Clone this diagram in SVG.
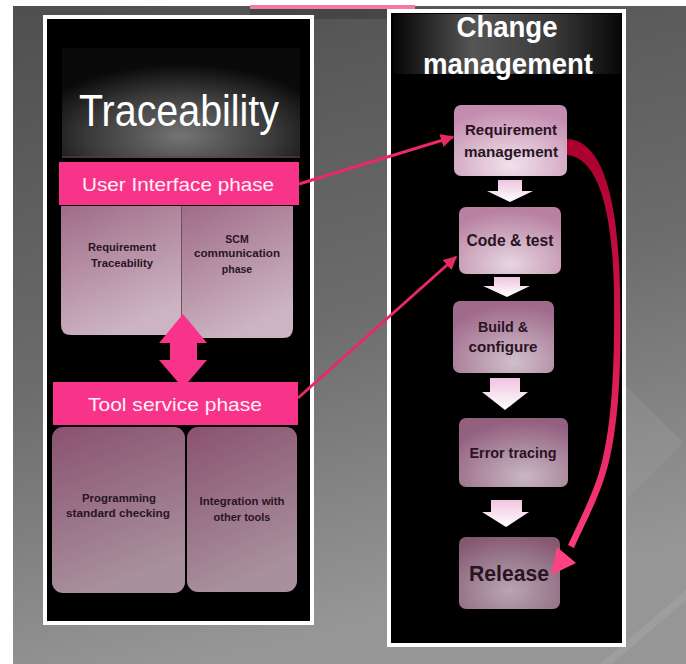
<svg xmlns="http://www.w3.org/2000/svg" width="686" height="664" viewBox="0 0 686 664">
<defs>
<style>
.title{font-family:"Liberation Sans",Arial,sans-serif;fill:#ffffff}
.bar{fill:#f8348a}
.bartxt{font-family:"Liberation Sans",Arial,sans-serif;font-size:19px;fill:#fff0f6;text-anchor:middle}
.small{font-family:"Liberation Sans",Arial,sans-serif;font-size:10.5px;font-weight:bold;fill:#2a1424;text-anchor:middle}
.ntxt{font-family:"Liberation Sans",Arial,sans-serif;font-weight:bold;fill:#2a1424;text-anchor:middle}
.flow{fill:url(#flowGrad)}
.link{stroke:#e82a64;stroke-width:3;fill:none}
</style>
<linearGradient id="bgGrad" x1="0" y1="0" x2="0.25" y2="1">
<stop offset="0" stop-color="#4f4f4f"/>
<stop offset="0.55" stop-color="#6c6c6c"/>
<stop offset="1" stop-color="#969696"/>
</linearGradient>
<radialGradient id="hdrL" cx="0.5" cy="0.8" r="0.65">
<stop offset="0" stop-color="#747474"/>
<stop offset="0.6" stop-color="#3a3a3a"/>
<stop offset="1" stop-color="#0a0a0a"/>
</radialGradient>
<linearGradient id="hdrR" x1="0" y1="0" x2="1" y2="0">
<stop offset="0" stop-color="#050505"/>
<stop offset="0.35" stop-color="#555555"/>
<stop offset="0.7" stop-color="#3a3a3a"/>
<stop offset="1" stop-color="#080808"/>
</linearGradient>
<linearGradient id="topBox" x1="0" y1="0" x2="0.4" y2="1">
<stop offset="0" stop-color="#a06c88"/>
<stop offset="1" stop-color="#ccb4c2"/>
</linearGradient>
<linearGradient id="botBox" x1="0" y1="0" x2="0.3" y2="1">
<stop offset="0" stop-color="#8a5270"/>
<stop offset="1" stop-color="#a8909c"/>
</linearGradient>
<radialGradient id="n1" cx="0.5" cy="0.85" r="0.8">
<stop offset="0" stop-color="#f0e2ea"/>
<stop offset="1" stop-color="#c48cb0"/>
</radialGradient>
<radialGradient id="n2" cx="0.5" cy="0.85" r="0.8">
<stop offset="0" stop-color="#e6d6e0"/>
<stop offset="1" stop-color="#b880a2"/>
</radialGradient>
<radialGradient id="n3" cx="0.6" cy="0.85" r="0.8">
<stop offset="0" stop-color="#d0c0ca"/>
<stop offset="1" stop-color="#a06a8c"/>
</radialGradient>
<radialGradient id="n4" cx="0.6" cy="0.85" r="0.8">
<stop offset="0" stop-color="#c8b8c2"/>
<stop offset="1" stop-color="#946080"/>
</radialGradient>
<radialGradient id="n5" cx="0.5" cy="0.75" r="0.8">
<stop offset="0" stop-color="#b8a6b2"/>
<stop offset="1" stop-color="#845872"/>
</radialGradient>
<linearGradient id="flowGrad" x1="0" y1="0" x2="0" y2="1">
<stop offset="0" stop-color="#f0c4e0"/>
<stop offset="1" stop-color="#ffffff"/>
</linearGradient>
<linearGradient id="curveGrad" gradientUnits="userSpaceOnUse" x1="0" y1="140" x2="0" y2="575">
<stop offset="0" stop-color="#a8002e"/>
<stop offset="0.5" stop-color="#d81850"/>
<stop offset="1" stop-color="#ff4282"/>
</linearGradient>
<marker id="ah" viewBox="0 0 10 10" refX="9" refY="5" markerWidth="4.5" markerHeight="4.5" orient="auto" markerUnits="strokeWidth">
<path d="M0,0 L10,5 L0,10 Z" fill="#e82a64"/>
</marker>
</defs>

<!-- background -->
<rect x="0" y="0" width="686" height="664" fill="#ffffff"/>
<rect x="13" y="6" width="673" height="658" fill="url(#bgGrad)"/>
<polygon points="600,664 686,590 686,600 612,664" fill="#ffffff" opacity="0.08"/>
<polygon points="625,385 684,443 625,500" fill="#ffffff" opacity="0.06"/>
<rect x="250" y="5" width="165" height="4" fill="#f27aa8"/>
<rect x="250" y="9" width="140" height="10" fill="#3c3c3c" opacity="0.6"/>

<!-- Left panel -->
<g id="traceability-panel">
<rect x="45" y="17" width="267" height="606" fill="#000000" stroke="#ffffff" stroke-width="4"/>
<rect x="62" y="48" width="238" height="110" fill="url(#hdrL)"/>
<line x1="62" y1="157" x2="300" y2="157" stroke="#6a3a4c" stroke-width="1"/>
<text class="title" x="179" y="126" font-size="44" text-anchor="middle" textLength="200" lengthAdjust="spacingAndGlyphs">Traceability</text>
</g>

<g id="user-interface-phase">
<rect class="bar" x="59" y="162" width="240" height="43"/>
<text class="bartxt" x="178" y="191" textLength="192" lengthAdjust="spacingAndGlyphs">User Interface phase</text>
</g>

<g id="requirement-traceability">
<path d="M61,206 H181 V335 H71 Q61,335 61,325 Z" fill="url(#topBox)"/>
<text class="small" x="122" y="251" textLength="68" lengthAdjust="spacingAndGlyphs">Requirement</text>
<text class="small" x="122" y="267" textLength="62" lengthAdjust="spacingAndGlyphs">Traceability</text>
</g>

<g id="scm-communication-phase">
<path d="M182,206 H293 V328 Q293,338 283,338 H182 Z" fill="url(#topBox)"/>
<line x1="181.5" y1="206" x2="181.5" y2="336" stroke="#7a4a62" stroke-width="1"/>
<text class="small" x="237" y="243">SCM</text>
<text class="small" x="237" y="257" textLength="86" lengthAdjust="spacingAndGlyphs">communication</text>
<text class="small" x="237" y="273">phase</text>
</g>

<g id="tool-service-phase">
<rect class="bar" x="53" y="382" width="245" height="43"/>
<text class="bartxt" x="175" y="411" font-size="20" textLength="174" lengthAdjust="spacingAndGlyphs">Tool service phase</text>
</g>

<g id="programming-standard-checking">
<rect x="52" y="427" width="133" height="166" rx="11" fill="url(#botBox)"/>
<text class="small" x="119" y="502" font-size="11.5" textLength="74" lengthAdjust="spacingAndGlyphs">Programming</text>
<text class="small" x="118" y="517" font-size="11.5" textLength="104" lengthAdjust="spacingAndGlyphs">standard checking</text>
</g>

<g id="integration-with-other-tools">
<rect x="187" y="427" width="110" height="165" rx="11" fill="url(#botBox)"/>
<text class="small" x="242" y="505" font-size="11.5" textLength="85" lengthAdjust="spacingAndGlyphs">Integration with</text>
<text class="small" x="242" y="521" font-size="11.5" textLength="57" lengthAdjust="spacingAndGlyphs">other tools</text>
</g>

<!-- Right panel -->
<g id="change-management-panel">
<rect x="389" y="11" width="235" height="634" fill="#000000" stroke="#ffffff" stroke-width="4"/>
<rect x="393" y="14" width="228" height="60" fill="url(#hdrR)"/>
<text class="title" x="507" y="37" font-size="29" font-weight="bold" text-anchor="middle" textLength="101" lengthAdjust="spacingAndGlyphs">Change</text>
<text class="title" x="508" y="74" font-size="29" font-weight="bold" text-anchor="middle" textLength="170" lengthAdjust="spacingAndGlyphs">management</text>
</g>

<g id="requirement-management">
<rect x="454" y="105" width="113" height="71" rx="7" fill="url(#n1)"/>
<text class="ntxt" x="511" y="135" font-size="14" textLength="92" lengthAdjust="spacingAndGlyphs">Requirement</text>
<text class="ntxt" x="511" y="157" font-size="14" textLength="94" lengthAdjust="spacingAndGlyphs">management</text>
</g>

<g id="code-and-test">
<rect x="459" y="207" width="102" height="67" rx="7" fill="url(#n2)"/>
<text class="ntxt" x="510" y="246" font-size="16" font-weight="normal" textLength="87" lengthAdjust="spacingAndGlyphs">Code &amp; test</text>
</g>

<g id="build-and-configure">
<rect x="453" y="301" width="101" height="72" rx="7" fill="url(#n3)"/>
<text class="ntxt" x="503" y="332" font-size="14.5" textLength="50" lengthAdjust="spacingAndGlyphs">Build &amp;</text>
<text class="ntxt" x="503" y="352" font-size="14.5" textLength="69" lengthAdjust="spacingAndGlyphs">configure</text>
</g>

<g id="error-tracing">
<rect x="459" y="418" width="109" height="69" rx="7" fill="url(#n4)"/>
<text class="ntxt" x="513" y="458" font-size="15" textLength="87" lengthAdjust="spacingAndGlyphs">Error tracing</text>
</g>

<g id="release">
<rect x="459" y="537" width="101" height="72" rx="7" fill="url(#n5)"/>
<text class="ntxt" x="509" y="581" font-size="22" font-weight="normal" fill="#1e0e18" textLength="80" lengthAdjust="spacingAndGlyphs">Release</text>
</g>

<!-- Connectors -->
<g id="connectors">
<path d="M183,314 L207,343 L197,343 L197,360 L207,360 L183,388 L159,360 L170,360 L170,343 L159,343 Z" fill="#f8348a"/>
<path class="flow" d="M498,180 H522 V191 H533 L510,202 L487,191 H498 Z"/>
<path class="flow" d="M494,277 H520 V286 H530 L507,297 L483,286 H494 Z"/>
<path class="flow" d="M490,378 H520 V392 H528 L505,410 L482,392 H490 Z"/>
<path class="flow" d="M491,500 H522 V512 H529 L506,527 L482,512 H491 Z"/>
<line class="link" x1="299" y1="184" x2="453" y2="137" marker-end="url(#ah)"/>
<line class="link" x1="298" y1="398" x2="456" y2="257" marker-end="url(#ah)"/>
<path d="M567,139 C600,140 618,190 620,290 C622,380 618,450 598,495 C590,515 581,532 574,548 L568,545 C575,530 584,512 592,492 C611,448 615,380 614,290 C612,205 597,158 567,155 Z" fill="url(#curveGrad)"/>
<polygon points="551,575 557,547 576,563" fill="#ff4282"/>
</g>
</svg>
